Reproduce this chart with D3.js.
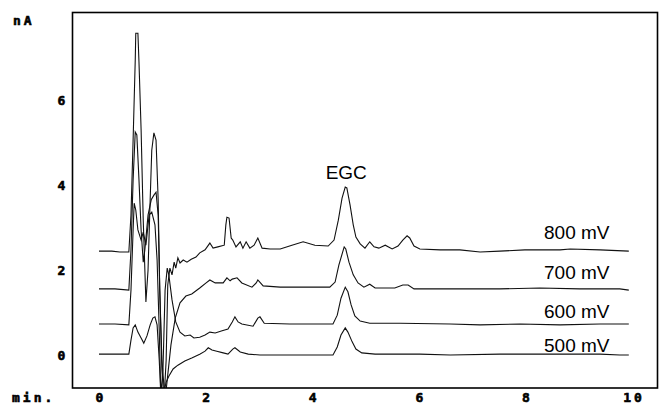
<!DOCTYPE html>
<html>
<head>
<meta charset="utf-8">
<script src="https://cdn.jsdelivr.net/npm/d3@7"></script>
<style>
  html, body { margin: 0; padding: 0; background: #fff; }
  svg { display: block; }
  .tick-label { font-family: "DejaVu Sans Mono", monospace; font-weight: bold; font-size: 13px; letter-spacing: 3px; fill: #000; stroke: #000; stroke-width: 0.6px; paint-order: stroke; }
  .trace-label { font-family: "Liberation Sans", Arial, sans-serif; font-size: 19px; fill: #000; }
</style>
</head>
<body>
<svg id="chart" width="659" height="407"></svg>
<script>
// Detector potentials (one chromatogram trace each)
const potentials = ["800 mV", "700 mV", "600 mV", "500 mV"];

// Tick labels
const xTicks = [0, 2, 4, 6, 8, 10];
const yTicks = [0, 2, 4, 6];
const xUnit = "min.";
const yUnit = "nA";
const peakName = "EGC";

// Retention time (min) and current (nA) for each trace
const trace800 = [
  [0,2.45],[0.24,2.45],[0.39,2.43],[0.56,2.43],[0.60,3.30],[0.64,5.07],[0.68,6.96],[0.69,7.59],
  [0.73,7.59],[0.75,6.91],[0.79,5.31],[0.83,3.18],[0.88,1.25],[0.92,2.00],[0.96,3.66],[0.99,4.83],
  [1.03,5.24],[1.07,5.07],[1.11,3.66],[1.14,1.53],[1.18,-0.35],[1.22,-1.06],[1.26,-0.12],[1.29,1.65],
  [1.33,2.05],[1.37,1.89],[1.41,2.19],[1.44,2.05],[1.48,2.29],[1.52,2.17],[1.58,2.24],[1.65,2.19],
  [1.73,2.26],[1.82,2.31],[1.89,2.41],[1.99,2.48],[2.08,2.64],[2.14,2.52],[2.23,2.55],[2.35,2.59],
  [2.38,3.07],[2.40,3.25],[2.44,3.23],[2.48,2.76],[2.51,2.71],[2.57,2.55],[2.65,2.67],[2.70,2.52],
  [2.76,2.67],[2.83,2.52],[2.91,2.59],[2.98,2.76],[3.06,2.52],[3.21,2.50],[3.40,2.50],[3.62,2.59],
  [3.83,2.67],[4.05,2.59],[4.30,2.57],[4.41,2.71],[4.49,3.18],[4.56,3.70],[4.62,3.96],[4.65,3.94],
  [4.71,3.54],[4.77,3.07],[4.82,2.78],[4.90,2.62],[4.99,2.52],[5.08,2.67],[5.16,2.55],[5.25,2.52],
  [5.37,2.59],[5.50,2.50],[5.61,2.57],[5.70,2.71],[5.78,2.81],[5.83,2.76],[5.91,2.57],[6.02,2.50],
  [6.40,2.48],[6.77,2.48],[7.15,2.43],[7.52,2.45],[7.99,2.48],[8.65,2.48],[8.84,2.50],[9.40,2.48],
  [9.94,2.45]
];
const trace700 = [
  [0,1.56],[0.30,1.56],[0.56,1.53],[0.60,2.48],[0.64,4.13],[0.68,5.26],[0.71,5.19],[0.75,4.13],
  [0.79,2.95],[0.83,2.19],[0.86,2.48],[0.92,3.30],[0.98,3.66],[1.03,3.77],[1.07,3.84],[1.11,3.30],
  [1.14,1.53],[1.18,-0.12],[1.24,-1.06],[1.29,-0.47],[1.35,0.24],[1.43,0.87],[1.52,1.23],[1.63,1.39],
  [1.74,1.44],[1.89,1.58],[2.01,1.70],[2.08,1.77],[2.18,1.70],[2.33,1.70],[2.40,1.82],[2.46,1.75],
  [2.50,1.79],[2.59,1.82],[2.68,1.70],[2.87,1.60],[2.95,1.70],[2.98,1.77],[3.08,1.63],[3.40,1.60],
  [3.96,1.60],[4.33,1.60],[4.43,1.72],[4.50,2.12],[4.60,2.55],[4.63,2.50],[4.69,2.19],[4.77,1.89],
  [4.86,1.70],[4.97,1.60],[5.08,1.67],[5.18,1.58],[5.55,1.58],[5.70,1.65],[5.80,1.65],[5.91,1.56],
  [6.59,1.56],[7.52,1.56],[8.27,1.58],[9.02,1.56],[9.77,1.56],[9.94,1.53]
];
const trace600 = [
  [0,0.73],[0.30,0.73],[0.56,0.71],[0.60,1.53],[0.64,2.95],[0.66,3.58],[0.69,3.42],[0.73,2.95],
  [0.79,2.71],[0.83,2.90],[0.88,2.59],[0.94,3.30],[0.99,3.37],[1.05,3.07],[1.09,2.24],[1.13,0.59],
  [1.16,-0.94],[1.20,-0.35],[1.24,1.53],[1.28,2.05],[1.31,1.89],[1.37,1.30],[1.44,0.78],[1.52,0.54],
  [1.61,0.45],[1.71,0.47],[1.78,0.40],[1.89,0.42],[1.99,0.47],[2.08,0.54],[2.18,0.52],[2.31,0.57],
  [2.42,0.61],[2.50,0.78],[2.55,0.90],[2.61,0.78],[2.68,0.73],[2.89,0.68],[2.98,0.87],[3.02,0.90],
  [3.10,0.75],[3.58,0.73],[4.15,0.73],[4.39,0.73],[4.47,0.94],[4.54,1.34],[4.62,1.60],[4.67,1.49],
  [4.73,1.18],[4.80,0.92],[4.90,0.80],[5.08,0.75],[5.65,0.75],[6.59,0.73],[7.15,0.71],[7.90,0.73],
  [8.65,0.71],[9.40,0.73],[9.94,0.73]
];
const trace500 = [
  [0,0.02],[0.30,0.02],[0.56,0.02],[0.60,0.35],[0.64,0.64],[0.68,0.71],[0.73,0.54],[0.79,0.40],
  [0.84,0.28],[0.90,0.45],[0.96,0.71],[1.01,0.87],[1.05,0.90],[1.09,0.71],[1.13,-0.12],[1.16,-0.94],
  [1.22,-0.87],[1.26,-0.64],[1.31,-0.50],[1.39,-0.33],[1.48,-0.24],[1.61,-0.14],[1.74,-0.07],[1.89,0.02],
  [1.99,0.09],[2.05,0.17],[2.12,0.12],[2.21,0.09],[2.33,0.05],[2.42,0.02],[2.51,0.14],[2.55,0.17],
  [2.65,0.07],[2.80,0.02],[3.02,0.00],[3.77,0.00],[4.39,0.00],[4.47,0.19],[4.54,0.47],[4.62,0.64],
  [4.67,0.54],[4.75,0.31],[4.82,0.14],[4.93,0.05],[5.18,0.02],[6.02,0.02],[6.59,0.00],[7.52,0.02],
  [8.65,0.02],[9.40,0.02],[9.77,0.00],[9.94,0.00]
];
const traces = [trace800, trace700, trace600, trace500];

// Layout
const frame = { left: 72.5, top: 12.5, right: 657.5, bottom: 388 };
const labelTime = 8.35;           // left edge of the potential labels (min)
const labelLift = [12, 11, 6, 3]; // px above each trace's tail

const svg = d3.select("#chart");

const x = d3.scaleLinear().domain([0, 10]).range([99, 632]);
const y = d3.scaleLinear().domain([0, 6]).range([355, 100.6]);

svg.append("defs").append("clipPath").attr("id", "plot-clip")
  .append("rect")
  .attr("x", frame.left).attr("y", frame.top)
  .attr("width", frame.right - frame.left).attr("height", frame.bottom - frame.top);

// Traces
const line = d3.line().x(d => x(d[0])).y(d => y(d[1]));
svg.append("g").attr("clip-path", "url(#plot-clip)")
  .selectAll("path").data(traces).join("path")
  .attr("d", line)
  .attr("fill", "none")
  .attr("stroke", "#111")
  .attr("stroke-width", 1.1)
  .attr("stroke-linejoin", "miter");

// Plot frame
svg.append("rect")
  .attr("x", frame.left).attr("y", frame.top)
  .attr("width", frame.right - frame.left).attr("height", frame.bottom - frame.top)
  .attr("fill", "none").attr("stroke", "#000").attr("stroke-width", 1.6);

// Axes: labels only, no tick marks or domain lines
const xAxis = svg.append("g")
  .attr("transform", `translate(0,${frame.bottom})`)
  .call(d3.axisBottom(x).tickValues(xTicks).tickSize(0).tickFormat(d3.format("d")));
xAxis.select(".domain").remove();
xAxis.selectAll("text").attr("class", "tick-label")
  .attr("y", 13.5).attr("dy", null).attr("dx", "1.5px");

const yAxis = svg.append("g")
  .attr("transform", `translate(${frame.left},0)`)
  .call(d3.axisLeft(y).tickValues(yTicks).tickSize(0).tickFormat(d3.format("d")));
yAxis.select(".domain").remove();
yAxis.selectAll("text").attr("class", "tick-label")
  .attr("text-anchor", "middle").attr("x", -11).attr("dx", "1.5px");

svg.append("text").attr("class", "tick-label").attr("x", 13).attr("y", 24.5).text(yUnit);
svg.append("text").attr("class", "tick-label").attr("x", 12).attr("y", 401.5).text(xUnit);

// Potential labels above each trace's tail
svg.append("g").selectAll("text").data(potentials).join("text")
  .attr("class", "trace-label")
  .attr("x", x(labelTime))
  .attr("y", (d, i) => {
    const tail = traces[i][traces[i].length - 1];
    return y(tail[1]) - labelLift[i];
  })
  .text(d => d);

// Peak annotation over the tallest EGC peak
const egc = trace800.filter(d => d[0] > 4 && d[0] < 5.5).reduce((a, b) => (b[1] > a[1] ? b : a));
svg.append("text").attr("class", "trace-label")
  .attr("x", x(egc[0]) + 1).attr("y", y(egc[1]) - 8)
  .attr("text-anchor", "middle")
  .text(peakName);
</script>
</body>
</html>
